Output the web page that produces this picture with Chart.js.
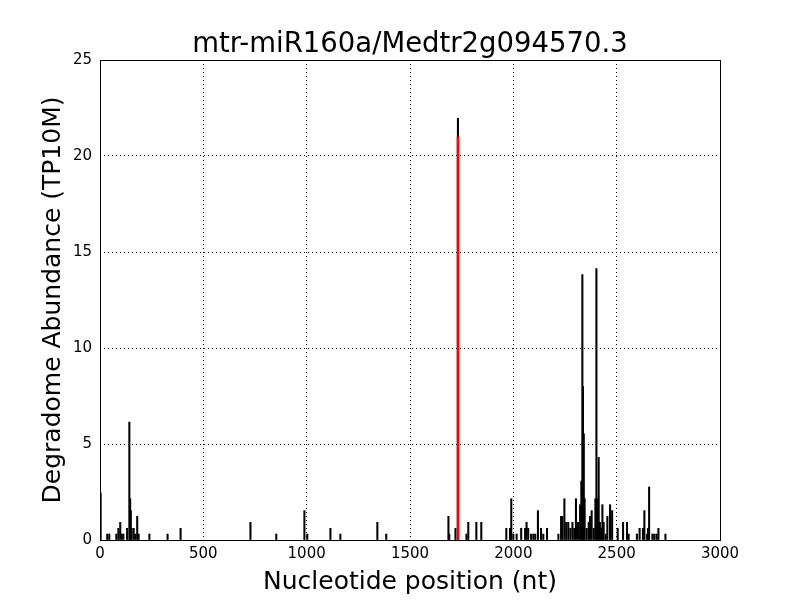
<!DOCTYPE html>
<html lang="en">
<head>
  <meta charset="UTF-8">
  <title>Degradome</title>
  <script src="https://cdn.jsdelivr.net/npm/chart.js"></script>
  <style>
    body { margin: 0; background: #fff; }
    canvas { display: block; }
  </style>
</head>
<body>
  <canvas id="myChart" width="800" height="600"></canvas>

<script>
const positions = [3, 35, 45, 79, 89, 98, 105, 113, 131, 142, 146, 149, 153, 163, 171, 180, 187, 239, 327, 390,
  728, 853, 989, 1003, 1115, 1163, 1342, 1385, 1686, 1690, 1720, 1732, 1773, 1782, 1821, 1845,
  1966, 1984, 1990, 2000, 2016, 2038, 2057, 2064, 2072, 2086, 2097, 2106, 2119, 2134, 2145, 2163,
  2218, 2231, 2237, 2247, 2256, 2266, 2276, 2286, 2295, 2303, 2313, 2323, 2329, 2334, 2337, 2341, 2345,
  2355, 2365, 2371, 2379, 2389, 2397, 2402, 2406, 2413, 2419, 2424, 2431, 2437, 2447, 2455, 2468, 2478,
  2505, 2531, 2550, 2558, 2598, 2611, 2627, 2634, 2647, 2652, 2657, 2673, 2682, 2693, 2702, 2736];
const abundance = [2.45, 0.31, 0.31, 0.31, 0.61, 0.92, 0.31, 0.31, 0.61, 6.14, 2.15, 1.53, 0.61, 0.61, 0.31, 1.23, 0.31, 0.31, 0.31, 0.61,
  0.92, 0.31, 1.53, 0.31, 0.61, 0.31, 0.92, 0.31, 1.23, 0.31, 0.61, 21.96, 0.31, 0.92, 0.92, 0.92,
  0.61, 0.61, 2.15, 0.31, 0.31, 0.61, 0.61, 0.92, 0.61, 0.31, 0.31, 0.31, 1.53, 0.61, 0.31, 0.61,
  0.31, 1.23, 1.23, 2.15, 0.92, 0.92, 0.61, 0.92, 0.61, 2.15, 0.92, 1.84, 3.07, 13.82, 8.0, 5.53, 2.15,
  0.61, 0.92, 1.23, 1.53, 0.61, 2.15, 14.13, 2.15, 4.3, 0.92, 0.61, 1.84, 0.92, 0.31, 1.23, 1.84, 1.53,
  0.61, 0.92, 0.92, 0.31, 0.31, 0.61, 0.61, 1.53, 0.31, 0.61, 2.76, 0.31, 0.31, 0.31, 0.61, 0.31];

// cleavage site (red)
const sitePosition = [1732];
const siteAbundance = [21.0];

const xTickStep = 500;
const yTickStep = 5;
const chartTitle = 'mtr-miR160a/Medtr2g094570.3';

const fontFamily = "'DejaVu Sans', sans-serif";

// black frame round the plot area + title centred on it
const framePlugin = {
  id: 'frame',
  afterDraw(chart) {
    const { ctx, chartArea } = chart;
    ctx.save();
    ctx.strokeStyle = '#000';
    ctx.lineWidth = 1;
    ctx.strokeRect(Math.round(chartArea.left) + 0.5, Math.round(chartArea.top) + 0.5,
      Math.round(chartArea.right - chartArea.left), Math.round(chartArea.bottom - chartArea.top));
    ctx.fillStyle = '#000';
    ctx.font = '27.5px ' + fontFamily;
    ctx.textAlign = 'center';
    ctx.textBaseline = 'alphabetic';
    ctx.fillText(chartTitle, (chartArea.left + chartArea.right) / 2, 52);
    ctx.restore();
  }
};

const ctx = document.getElementById('myChart').getContext('2d');
new Chart(ctx, {
  type: 'bar',
  data: {
    datasets: [
      {
        data: sitePosition.map((x, i) => ({ x: x, y: siteAbundance[i] })),
        backgroundColor: '#ff0000',
        barThickness: 2,
        order: 0
      },
      {
        data: positions.map((x, i) => ({ x: x, y: abundance[i] })),
        backgroundColor: '#000000',
        barThickness: 1.4,
        order: 1
      }
    ]
  },
  options: {
    responsive: false,
    animation: false,
    devicePixelRatio: 1,
    grouped: false,
    layout: { padding: { top: 60, right: 80, bottom: 0, left: 0 } },
    plugins: {
      legend: { display: false },
      tooltip: { enabled: false },
      title: { display: false }
    },
    scales: {
      x: {
        type: 'linear',
        min: 0,
        max: 3000,
        offset: false,
        afterFit: (scale) => { scale.height = 60; },
        ticks: {
          stepSize: xTickStep,
          autoSkip: false,
          callback: (v) => String(v),
          color: '#000',
          font: { family: fontFamily, size: 15 },
          padding: 5,
          maxRotation: 0
        },
        grid: { color: '#000', lineWidth: 1, drawTicks: false, offset: false },
        border: { display: false, dash: [1, 3] },
        title: {
          display: true,
          text: 'Nucleotide position (nt)',
          color: '#000',
          font: { family: fontFamily, size: 25, lineHeight: 1 },
          padding: { top: 0, bottom: 5.5 }
        }
      },
      y: {
        min: 0,
        max: 25,
        afterFit: (scale) => { scale.width = 100; },
        ticks: {
          stepSize: yTickStep,
          autoSkip: false,
          callback: (v) => String(v),
          color: '#000',
          font: { family: fontFamily, size: 15 },
          padding: 8
        },
        grid: { color: '#000', lineWidth: 1, drawTicks: false },
        border: { display: false, dash: [1, 3] },
        title: {
          display: true,
          text: 'Degradome Abundance (TP10M)',
          color: '#000',
          font: { family: fontFamily, size: 25, lineHeight: 1 },
          padding: { top: 40.5, bottom: 0 }
        }
      }
    }
  },
  plugins: [framePlugin]
});
</script>
</body>
</html>
